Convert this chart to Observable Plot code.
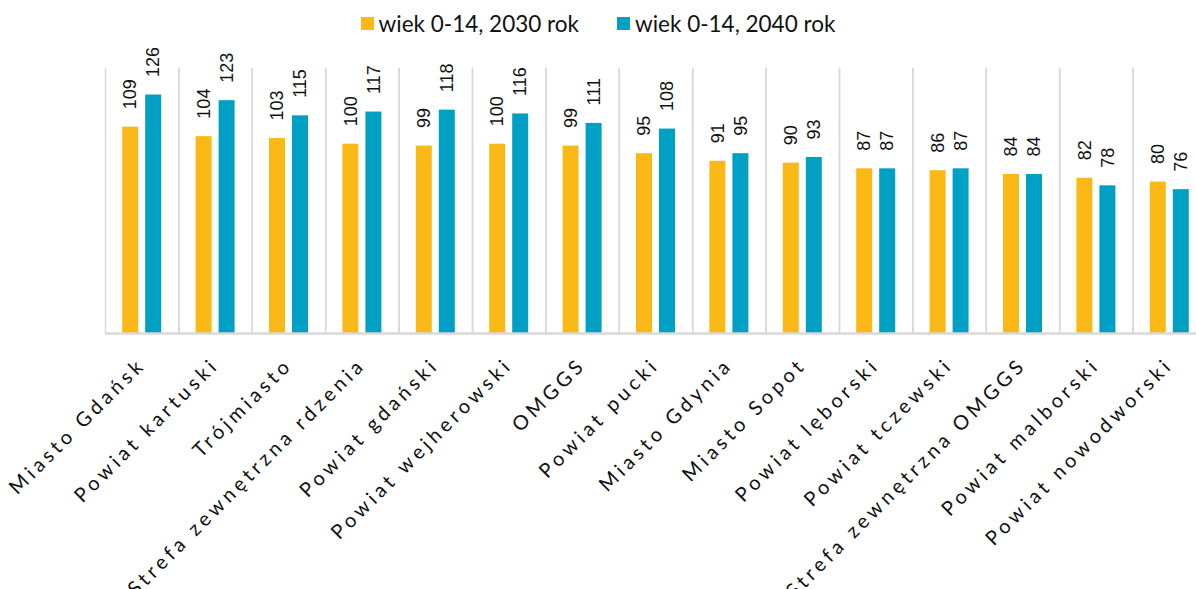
<!DOCTYPE html>
<html>
<head>
<meta charset="utf-8">
<script src="https://cdn.jsdelivr.net/npm/d3@7"></script>
<script src="https://cdn.jsdelivr.net/npm/@observablehq/plot@0.6"></script>
<style>
  html, body { margin: 0; padding: 0; background: #fff; overflow: hidden; width: 1196px; height: 589px; }
  body { font-family: Lato, "Noto Sans", sans-serif; }
  #legend { height: 48px; display: flex; align-items: center; justify-content: center; box-sizing: border-box; padding-bottom: 2px; }
  .item { display: flex; align-items: center; font-size: 22.5px; color: #111; margin: 0 19px; }
  .sw { width: 13px; height: 13px; margin-right: 5px; }
  #chart svg { display: block; }
  #chart [aria-label="fx-axis tick label"] { letter-spacing: 4px; }
</style>
</head>
<body>
<div id="legend"></div>
<div id="chart"></div>
<script>
const categories = [
  "Miasto Gdańsk", "Powiat kartuski", "Trójmiasto", "Strefa zewnętrzna rdzenia",
  "Powiat gdański", "Powiat wejherowski", "OMGGS", "Powiat pucki", "Miasto Gdynia",
  "Miasto Sopot", "Powiat lęborski", "Powiat tczewski", "Strefa zewnętrzna OMGGS",
  "Powiat malborski", "Powiat nowodworski"
];
const seriesNames = ["wiek 0-14, 2030 rok", "wiek 0-14, 2040 rok"];
const values2030 = [109, 104, 103, 100, 99, 100, 99, 95, 91, 90, 87, 86, 84, 82, 80];
const values2040 = [126, 123, 115, 117, 118, 116, 111, 108, 95, 93, 87, 87, 84, 78, 76];
const colors = ["#FBB917", "#00A0C4"];

const rows = [];
categories.forEach((c, i) => {
  rows.push({category: c, series: seriesNames[0], value: values2030[i]});
  rows.push({category: c, series: seriesNames[1], value: values2040[i]});
});

const legend = document.getElementById("legend");
seriesNames.forEach((s, i) => {
  const it = document.createElement("div");
  it.className = "item";
  const sw = document.createElement("span");
  sw.className = "sw";
  sw.style.background = colors[i];
  const t = document.createElement("span");
  t.textContent = s;
  it.appendChild(sw); it.appendChild(t);
  legend.appendChild(it);
});

const chart = Plot.plot({
  width: 1196,
  height: 541,
  marginTop: 20,
  marginBottom: 256,
  marginLeft: 105,
  marginRight: -10,
  style: {fontFamily: "Lato, 'Noto Sans', sans-serif", background: "white"},
  fx: {domain: categories, padding: 0, round: false, label: null},
  x: {domain: seriesNames, paddingInner: 0.3043, paddingOuter: 0.748, round: false, axis: null},
  y: {domain: [0, 140], axis: null},
  color: {domain: seriesNames, range: colors},
  marks: [
    Plot.frame({anchor: "left", stroke: "#d9d9d9", strokeWidth: 1.5}),
    Plot.frame({anchor: "right", stroke: "#d9d9d9", strokeWidth: 1.5}),
    Plot.barY(rows, {fx: "category", x: "series", y: "value", fill: "series"}),
    Plot.ruleY([0], {stroke: "#d9d9d9", strokeWidth: 2.5}),
    Plot.text(rows, {
      fx: "category", x: "series", y: "value", text: d => String(d.value),
      rotate: -90, textAnchor: "start", lineAnchor: "middle", dy: -18,
      fontSize: 18, fontFamily: "'Liberation Sans', Arial, sans-serif", fill: "#111"
    }),
    Plot.axisFx({anchor: "bottom", tickSize: 0, tickPadding: 28, tickRotate: -45, fontSize: 20, label: null, fill: "#111"})
  ]
});
document.getElementById("chart").appendChild(chart);
</script>
</body>
</html>
